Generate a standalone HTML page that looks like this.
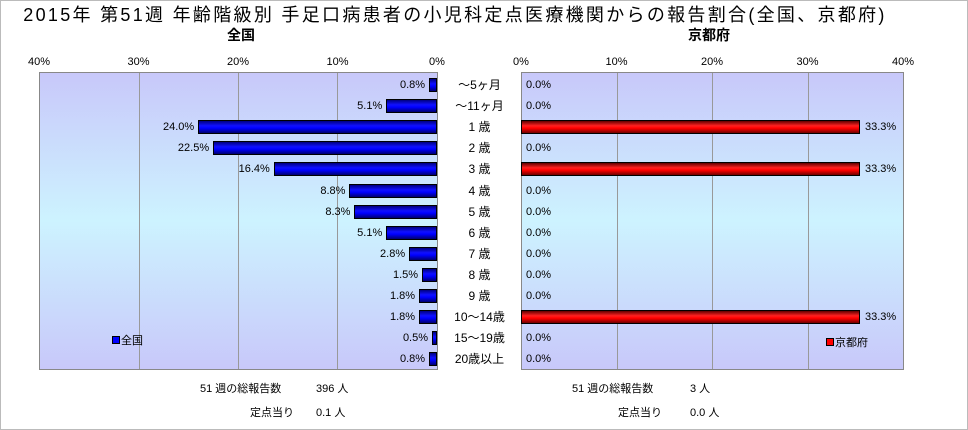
<!DOCTYPE html>
<html><head><meta charset="utf-8"><style>
body{margin:0;width:968px;height:430px;background:#fff;position:relative;overflow:hidden;font-family:"Liberation Sans","Noto Sans CJK JP",sans-serif;color:#000}
.frame{position:absolute;left:0;top:0;width:966px;height:428px;border:1px solid #bbb}
.t{position:absolute;white-space:nowrap;font-size:11px;line-height:12px}
.plot{position:absolute;top:72px;height:298px;border:1px solid #888;box-sizing:border-box;background:linear-gradient(#c8c8fa,#cdf3ff 50%,#c8c8fa)}
.g{position:absolute;top:0;bottom:0;width:1px;background:#999}
.b{position:absolute;height:14px;box-sizing:border-box;border:1px solid #000}
.bl{background:linear-gradient(#000080,#1010ff 40%,#0000ff 60%,#000070)}
.br{background:linear-gradient(#600000,#ff2020 40%,#ff0000 60%,#700000)}
</style></head><body>
<div class="frame"></div>
<div class="t" style="left:0;width:910px;top:5px;font-size:18px;line-height:20px;letter-spacing:2.3px;text-align:center">2015年 第51週 年齢階級別 手足口病患者の小児科定点医療機関からの報告割合(全国、京都府)</div>
<div class="t" style="left:227px;top:27px;font-size:14px;line-height:16px;font-weight:bold">全国</div>
<div class="t" style="left:688px;top:27px;font-size:14px;line-height:16px;font-weight:bold">京都府</div>
<div class="plot" style="left:39px;width:399px">
<div class="g" style="left:99px"></div><div class="g" style="left:198px"></div><div class="g" style="left:297px"></div>
</div>
<div class="plot" style="left:521px;width:383px">
<div class="g" style="left:95px"></div><div class="g" style="left:190px"></div><div class="g" style="left:286px"></div>
</div>
<div id="c"></div>
<div class="t" style="left:112px;top:335px"><span style="display:inline-block;width:6px;height:6px;background:#00f;border:1px solid #000;margin-right:1px"></span>全国</div>
<div class="t" style="left:826px;top:337px"><span style="display:inline-block;width:6px;height:6px;background:#f00;border:1px solid #000;margin-right:1px"></span>京都府</div>
<div class="t" style="left:200px;top:383px">51 週の総報告数</div><div class="t" style="left:316px;top:383px">396 人</div>
<div class="t" style="left:250px;top:407px">定点当り</div><div class="t" style="left:316px;top:407px">0.1 人</div>
<div class="t" style="left:572px;top:383px">51 週の総報告数</div><div class="t" style="left:690px;top:383px">3 人</div>
<div class="t" style="left:618px;top:407px">定点当り</div><div class="t" style="left:690px;top:407px">0.0 人</div>
<script>
var c=document.getElementById('c'),h='';
var ax=['40%','30%','20%','10%','0%'];
for(var i=0;i<5;i++){h+='<div class="t" style="left:'+(39+99.5*i-20)+'px;width:40px;text-align:center;top:56px">'+ax[i]+'</div>';
h+='<div class="t" style="left:'+(521+95.5*i-20)+'px;width:40px;text-align:center;top:56px">'+ax[4-i]+'</div>';}
var cat=['～5ヶ月','～11ヶ月','1 歳','2 歳','3 歳','4 歳','5 歳','6 歳','7 歳','8 歳','9 歳','10～14歳','15～19歳','20歳以上'];
var L=[0.8,5.1,24.0,22.5,16.4,8.8,8.3,5.1,2.8,1.5,1.8,1.8,0.5,0.8];
var R=[0,0,33.3,0,33.3,0,0,0,0,0,0,33.3,0,0];
for(i=0;i<14;i++){var y=85+21.1*i;
h+='<div class="t" style="left:438px;width:83px;text-align:center;top:'+(y-7)+'px;font-size:12px;line-height:14px">'+cat[i]+'</div>';
var w=L[i]*9.95;h+='<div class="b bl" style="left:'+(437-w)+'px;width:'+w+'px;top:'+(y-7)+'px"></div>';
h+='<div class="t" style="left:'+(437-w-50)+'px;width:46px;text-align:right;top:'+(y-6)+'px">'+L[i].toFixed(1)+'%</div>';
var rw=R[i]*10.18;if(rw>0)h+='<div class="b br" style="left:521px;width:'+rw+'px;top:'+(y-7)+'px"></div>';
h+='<div class="t" style="left:'+(521+rw+5)+'px;top:'+(y-6)+'px">'+R[i].toFixed(1)+'%</div>';}
c.innerHTML=h;
</script>
</body></html>
